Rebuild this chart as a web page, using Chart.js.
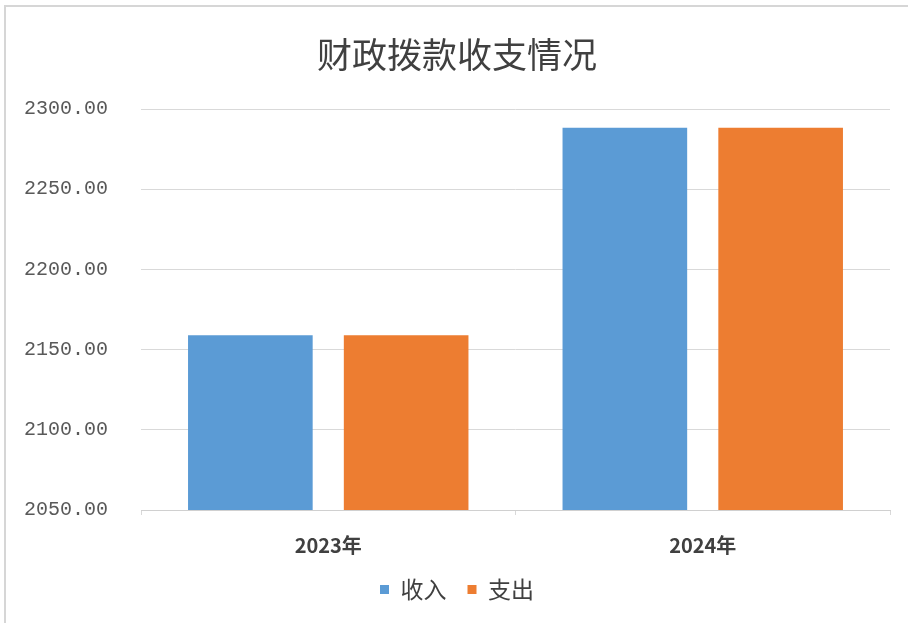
<!DOCTYPE html>
<html lang="zh">

<head>
    <meta charset="UTF-8" />
    <title>财政拨款收支情况</title>
    <script src="https://cdn.jsdelivr.net/npm/chart.js@4.4.1/dist/chart.umd.min.js"></script>
    <style>
        html, body { margin: 0; padding: 0; background: #fff; }
        #wrap { position: relative; width: 908px; height: 623px; overflow: hidden; }
        #frame {
            position: absolute; left: 4px; top: 5px; width: 940px; height: 660px;
            border: 2px solid #d6d6d6; pointer-events: none;
        }
        canvas { position: absolute; left: 0; top: 0; }
    </style>
</head>

<body>
    <div id="wrap">
        <canvas id="barChart" width="908" height="623"></canvas>
        <div id="frame"></div>
    </div>

<script>
    // 数据
    const years = ['2023年', '2024年'];
    const income = [2159.0, 2288.3];   // 收入
    const expense = [2159.0, 2288.3];  // 支出
    const yTicks = [2050, 2100, 2150, 2200, 2250, 2300];

    const ctx = document.getElementById('barChart').getContext('2d');

    new Chart(ctx, {
        type: 'bar',
        data: {
            labels: years,
            datasets: [
                { label: '收入', data: income, backgroundColor: '#5b9bd5' },
                { label: '支出', data: expense, backgroundColor: '#ed7d31' }
            ]
        },
        options: {
            responsive: false,
            animation: false,
            categoryPercentage: 0.832,
            barPercentage: 0.8,
            layout: { padding: { left: 24, right: 18, top: 34, bottom: 12 } },
            scales: {
                x: {
                    afterFit: (axis) => { axis.height = 47; },
                    grid: {
                        drawOnChartArea: false,
                        color: '#d9d9d9',
                        tickLength: 5
                    },
                    border: { color: '#d0d0d0' },
                    ticks: {
                        color: '#404040',
                        padding: 18,
                        font: { family: '"Noto Sans CJK SC"', size: 20, weight: 'bold' }
                    }
                },
                y: {
                    min: 2050,
                    max: 2300,
                    afterBuildTicks: (axis) => { axis.ticks = yTicks.map(v => ({ value: v })); },
                    afterFit: (axis) => { axis.width = 117; },
                    grid: { color: '#d9d9d9', drawTicks: false },
                    border: { display: false },
                    ticks: {
                        color: '#595959',
                        padding: 33,
                        font: { family: '"Liberation Mono"', size: 20 },
                        callback: (v) => Number(v).toFixed(2)
                    }
                }
            },
            plugins: {
                title: {
                    display: true,
                    text: '财政拨款收支情况',
                    color: '#404040',
                    font: { family: '"Noto Sans CJK SC"', size: 35, weight: 'normal' },
                    padding: { top: 0, bottom: 33 }
                },
                legend: {
                    position: 'bottom',
                    labels: {
                        color: '#404040',
                        boxWidth: 9,
                        boxHeight: 9,
                        padding: 21,
                        font: { family: '"Noto Sans CJK SC"', size: 23 }
                    }
                },
                tooltip: { enabled: false }
            }
        }
    });
</script>
</body>

</html>
